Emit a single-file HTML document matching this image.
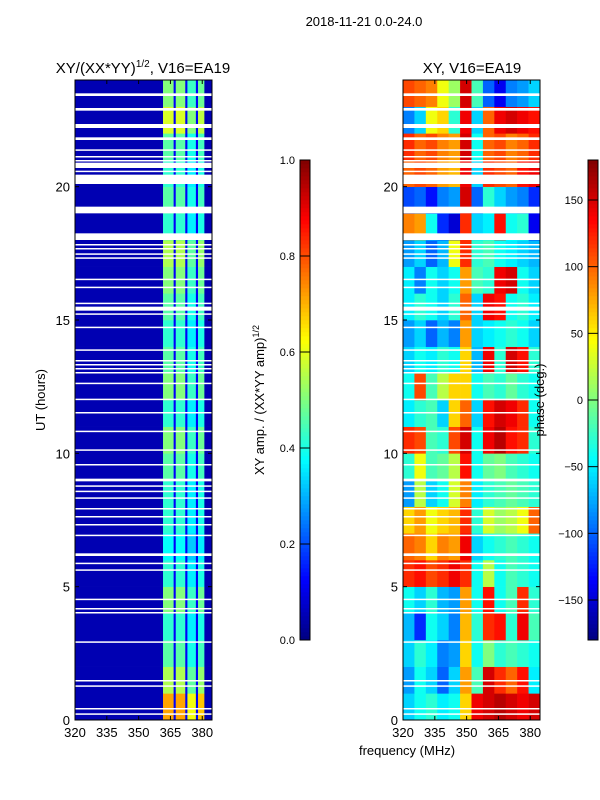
<!DOCTYPE html>
<html><head><meta charset="utf-8"><style>
html,body{margin:0;padding:0;background:#fff;}
svg{display:block;font-family:"Liberation Sans",sans-serif;}
</style></head><body>
<svg id="fig" width="600" height="800" xmlns="http://www.w3.org/2000/svg">
<text x="364" y="26" font-size="13" text-anchor="middle">2018-11-21 0.0-24.0</text>
<text x="143" y="73" font-size="15" text-anchor="middle">XY/(XX*YY)<tspan font-size="10" dy="-6">1/2</tspan><tspan dy="6">, V16=EA19</tspan></text>
<text x="472" y="73" font-size="15" text-anchor="middle">XY, V16=EA19</text>
<text x="45" y="400" font-size="13" text-anchor="middle" transform="rotate(-90 45 400)">UT (hours)</text>
<text x="407" y="755" font-size="13" text-anchor="middle">frequency (MHz)</text>
<text x="264" y="400" font-size="13" text-anchor="middle" transform="rotate(-90 264 400)">XY amp. / (XX*YY amp)<tspan font-size="9" dy="-5">1/2</tspan></text>
<g id="gL"></g>
<g id="gR"></g>
<g id="gA"></g>
<text x="544" y="400" font-size="13" text-anchor="middle" transform="rotate(-90 544 400)">phase (deg.)</text>
</svg>
<script>
const freqMin=320, freqMax=384.6, tMin=0, tMax=24;
const xTicks=[320,335,350,365,380];
const yTicks=[0,5,10,15,20];
const ampTicks=[0.0,0.2,0.4,0.6,0.8,1.0];
const phaseTicks=[-150,-100,-50,0,50,100,150];
const ampSegStart=[320,361.5,366.5,367.5,372,373,377,378,381];
const ampSegEnd  =[361.5,366.5,367.5,372,373,377,378,381,384.6];
const ampSegVal  =[0.05,0.42,0.12,0.42,0.12,0.36,0.12,0.4,0.05];
const ampHourFactor=[1.7,1.3,1.1,1.0,1.2,1.0,0.9,1.0,1.0,1.1,1.2,1.0,1.2,1.1,1.0,1.1,1.2,1.3,1.0,1.1,1.0,1.1,1.4,1.2];
const phaseRows=[
[-60,-40,-30,-50,-40,60,140,150,160,150,140,150],
[-80,-40,-60,-100,-60,80,-20,150,120,100,130,-50],
[-60,-30,-50,-90,-80,60,-40,0,-30,-20,-30,-40],
[-70,-120,-40,-60,-90,70,-30,120,130,-30,140,-20],
[-40,-60,-30,-70,-80,80,-40,130,-40,-20,120,-30],
[120,130,110,120,140,120,-40,20,-40,-20,-30,-40],
[100,90,60,90,80,140,-60,-40,-30,-20,-30,-40],
[60,80,40,60,70,120,-30,30,10,20,40,100],
[-80,20,-60,-40,30,90,-50,-30,-20,-10,-20,-30],
[-30,40,-20,-10,20,130,-40,-10,0,-20,-30,-40],
[120,110,-20,-30,110,150,-40,140,160,130,120,-30],
[-50,-30,-20,-60,60,100,-60,130,150,140,120,-40],
[-40,110,-20,20,60,60,-40,-20,-30,-10,-30,-40],
[-60,-40,-50,-30,-40,60,-70,140,-30,150,130,-30],
[-80,-60,-100,-70,-90,80,-60,-50,-40,-30,-40,-60],
[-50,-30,-40,-60,-30,100,-60,140,130,-40,-30,-50],
[-50,-90,-40,-60,-40,80,-20,-30,140,150,-40,-60],
[-80,-60,-100,-70,40,120,-30,-20,-40,-50,-60,-70],
[90,80,-40,-120,-150,120,-60,-50,130,-40,-30,-140],
[-110,-100,-130,-90,-80,150,-100,-30,-60,-80,-90,-120],
[100,110,100,80,70,140,-60,120,110,100,130,140],
[120,100,110,90,80,150,-40,100,110,90,100,120],
[-90,-60,40,60,-30,140,-60,100,140,150,140,130],
[110,100,90,40,10,150,-20,-100,-140,-90,-80,-60]];
const gapStart=[23.4,22.85,22.2,21.75,21.35,21.1,20.95,20.7,20.55,20.1,19.0,18.0,17.8,17.65,17.45,17.3,16.5,16.2,15.6,15.35,15.2,14.7,13.85,13.45,13.3,13.15,13.0,12.6,12.0,11.5,10.8,10.1,9.55,8.95,8.75,8.55,8.3,7.9,7.6,7.3,6.9,6.15,5.85,5.6,4.5,4.15,4.0,2.9,1.45,1.25,0.4,0.2];
const gapEnd  =[23.5,22.95,22.35,21.85,21.4,21.15,21.0,20.9,20.6,20.45,19.25,18.25,17.85,17.7,17.5,17.35,16.55,16.25,15.65,15.5,15.25,14.75,13.9,13.5,13.35,13.2,13.05,12.65,12.05,11.55,10.85,10.15,9.6,9.05,8.8,8.6,8.35,7.95,7.65,7.35,6.95,6.25,5.9,5.65,4.55,4.2,4.05,2.95,1.5,1.3,0.45,0.25];

const NS="http://www.w3.org/2000/svg";
function el(tag,attrs,parent){const e=document.createElementNS(NS,tag);for(const k in attrs)e.setAttribute(k,attrs[k]);parent.appendChild(e);return e;}
const yTop=80,yBot=720;
const panels=[{x0:75,x1:212},{x0:403,x1:540}];
function yS(h){return yBot-(h-tMin)/(tMax-tMin)*(yBot-yTop);}
function xS(p,f){return p.x0+(f-freqMin)/(freqMax-freqMin)*(p.x1-p.x0);}
function jet(v){v=Math.max(0,Math.min(1,v));
 const st=[[0,0,0,127],[0.125,0,0,255],[0.375,0,255,255],[0.625,255,255,0],[0.875,255,0,0],[1,127,0,0]];
 for(let i=1;i<st.length;i++){if(v<=st[i][0]){const a=st[i-1],b=st[i],t=(v-a[0])/(b[0]-a[0]);
  return `rgb(${Math.round(a[1]+t*(b[1]-a[1]))},${Math.round(a[2]+t*(b[2]-a[2]))},${Math.round(a[3]+t*(b[3]-a[3]))})`;}}
 return "rgb(127,0,0)";}
const gL=document.getElementById('gL'),gR=document.getElementById('gR'),gA=document.getElementById('gA');
for(let h=0;h<ampHourFactor.length;h++){
 for(let s=0;s<ampSegVal.length;s++){
  let v=ampSegVal[s]*(ampSegVal[s]>0.2?ampHourFactor[h]:1);
  const r=el('rect',{x:xS(panels[0],ampSegStart[s]),y:yS(h+1),width:xS(panels[0],ampSegEnd[s])-xS(panels[0],ampSegStart[s])+0.3,height:yS(h)-yS(h+1)+0.3,fill:jet(v)},gL);
  
  
 }}
const nC=phaseRows[0].length, cw=(freqMax-freqMin)/nC;
for(let h=0;h<phaseRows.length;h++){
 for(let c=0;c<nC;c++){
  const f0=freqMin+c*cw;
  const r=el('rect',{x:xS(panels[1],f0),y:yS(h+1),width:xS(panels[1],f0+cw)-xS(panels[1],f0)+0.3,height:yS(h)-yS(h+1)+0.3,fill:jet((phaseRows[h][c]+180)/360)},gR);
  
  
 }}
for(const p of panels){for(let i=0;i<gapStart.length;i++){
 const r=el('rect',{x:p.x0,y:yS(gapEnd[i]),width:p.x1-p.x0,height:Math.max(1.5,yS(gapStart[i])-yS(gapEnd[i])),fill:'#fff'},p===panels[0]?gL:gR);
 
 
}}
for(const p of panels){
 const fr=el('rect',{x:p.x0,y:yTop,width:p.x1-p.x0,height:yBot-yTop,fill:'none',stroke:'#000','stroke-width':1},gA);
 
 
 for(const t of xTicks){const x=xS(p,t);
  el('line',{x1:x,x2:x,y1:yBot,y2:yBot-4,stroke:'#000'},gA);el('line',{x1:x,x2:x,y1:yTop,y2:yTop+4,stroke:'#000'},gA);
  const tx=el('text',{x:x,y:yBot+17,'font-size':13,'text-anchor':'middle'},gA);tx.textContent=t;
  
  }
 for(const t of yTicks){const y=yS(t);
  el('line',{x1:p.x0,x2:p.x0+4,y1:y,y2:y,stroke:'#000'},gA);el('line',{x1:p.x1,x2:p.x1-4,y1:y,y2:y,stroke:'#000'},gA);
  const tx=el('text',{x:p.x0-5,y:y+5,'font-size':13,'text-anchor':'end'},gA);tx.textContent=t;
  
  }
}
function cbar(x,ticks,lo,hi,nm){
 const cy0=160,cy1=640;
 for(let i=0;i<120;i++){const v=i/120;el('rect',{x:x,y:cy1-(i+1)*4,width:10,height:4.3,fill:jet(v+0.5/120)},gA);}
 const fr=el('rect',{x:x,y:cy0,width:10,height:cy1-cy0,fill:'none',stroke:'#000'},gA);
 
 
 for(const t of ticks){const y=cy1-(t-lo)/(hi-lo)*(cy1-cy0);
  el('line',{x1:x,x2:x+10,y1:y,y2:y,stroke:'#000'},gA);
  const tx=el('text',{x:x-5,y:y+4,'font-size':11,'text-anchor':'end'},gA);
  tx.textContent=(lo===0?t.toFixed(1):(t<0?'\u2212'+(-t):t));
  
  }
}
cbar(300,ampTicks,0,1,'amp-colorbar');
cbar(588,phaseTicks,-180,180,'phase-colorbar');
</script>
</body></html>
